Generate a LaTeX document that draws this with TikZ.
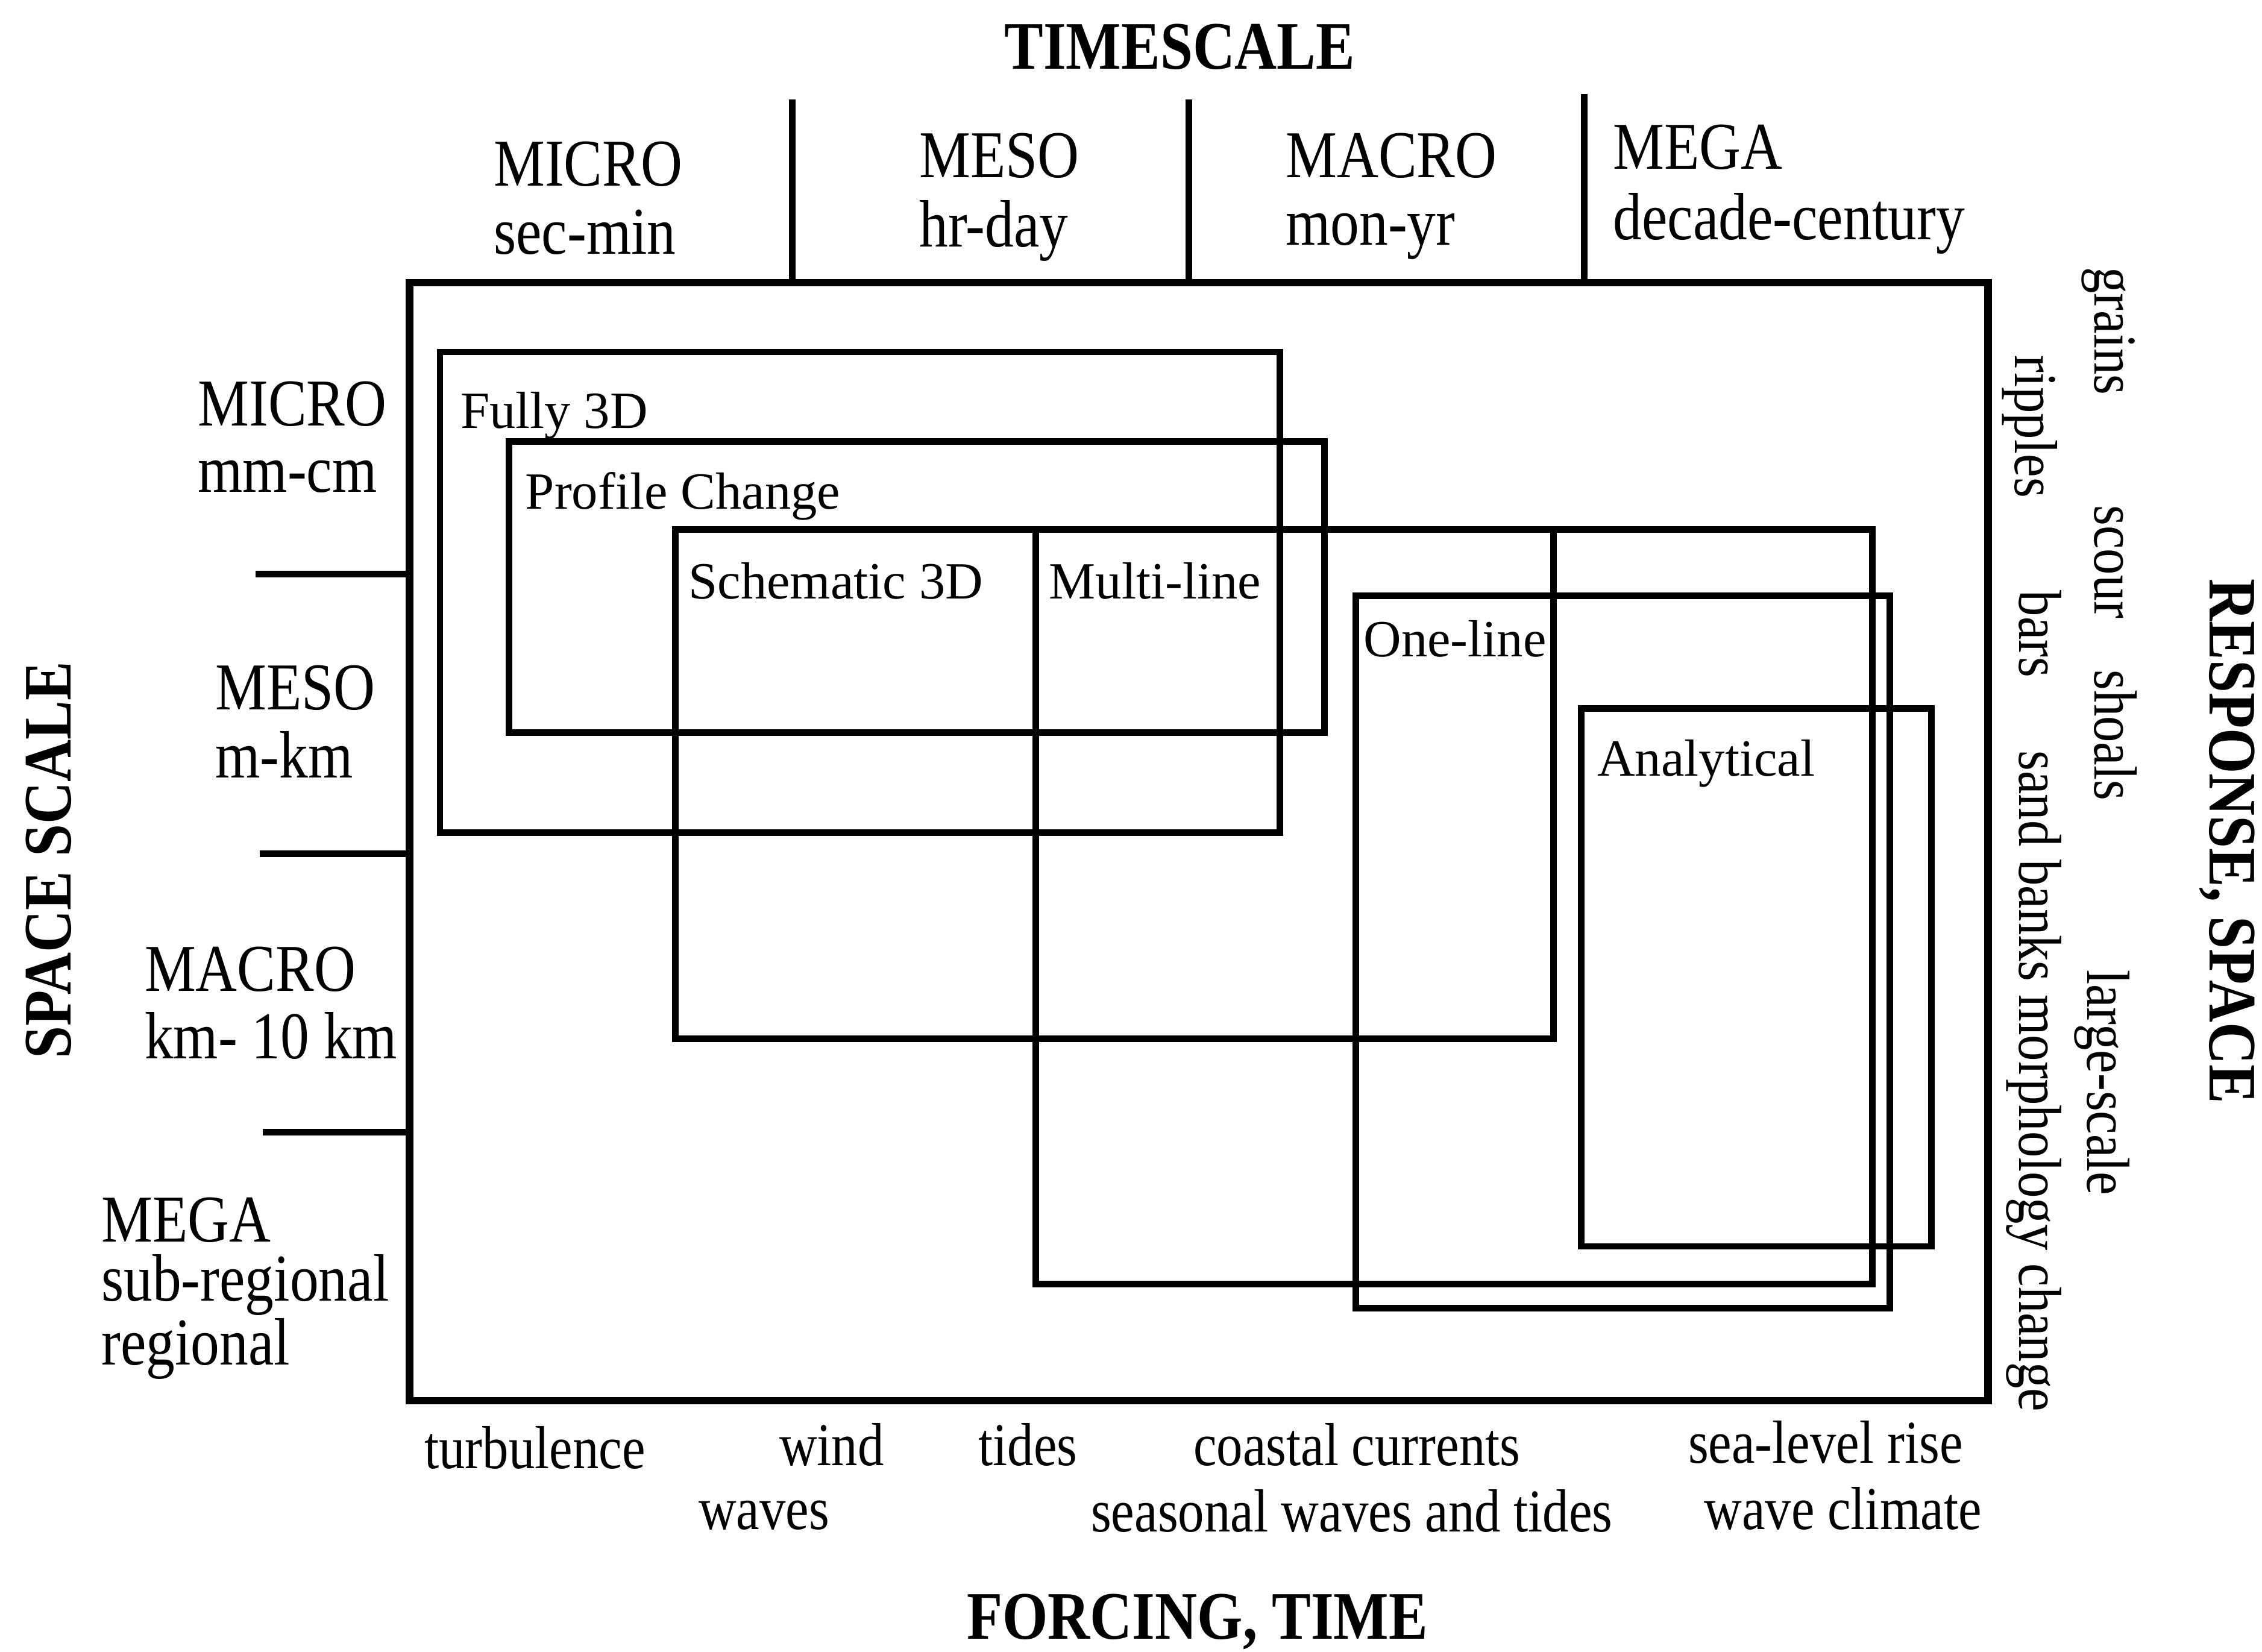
\documentclass[tikz,border=0pt]{standalone}
\usepackage{fontspec}
\setmainfont{Liberation Serif}
\newfontfamily\labfont{Liberation Serif}[FakeStretch=0.86]
\begin{document}
\begin{tikzpicture}[x=0.1mm, y=-0.1mm, line width=1.3pt,
  lab/.style={font=\labfont\fontsize{13.2pt}{15pt}\selectfont, inner sep=0pt, anchor=base west},
  blab/.style={font=\labfont\fontsize{12pt}{14pt}\selectfont, inner sep=0pt, anchor=base west},
  ttl/.style={font=\labfont\bfseries\fontsize{13.4pt}{16pt}\selectfont, inner sep=0pt, anchor=base west},
  inlab/.style={font=\fontsize{10.3pt}{12pt}\selectfont, inner sep=0pt, anchor=base west},
  frame/.style={line width=1.5pt},
  modelbox/.style={line width=1.3pt}
]
\useasboundingbox (0,0) rectangle (1568,1145);

% outer frame
\coordinate (fNW) at (284,196);
\coordinate (fSE) at (1378,971);
\draw[frame] (fNW) rectangle (fSE);

% top dividers
\coordinate (d1) at (549,69);
\coordinate (d2) at (824,69);
\coordinate (d3) at (1098,65);
\draw (d1) -- (d1 |- fNW);
\draw (d2) -- (d2 |- fNW);
\draw (d3) -- (d3 |- fNW);

% left ticks
\coordinate (t1) at (177,398);
\coordinate (t2) at (180,592);
\coordinate (t3) at (182,785);
\draw (t1) -- (t1 -| fNW);
\draw (t2) -- (t2 -| fNW);
\draw (t3) -- (t3 -| fNW);

% model boxes
\draw[modelbox] (305,244) rectangle (887,577);
\draw[modelbox] (353,306) rectangle (918,508);
\draw[modelbox] (468,367) rectangle (1077,720);
\draw[modelbox] (718,367) rectangle (1298,890);
\draw[modelbox] (940,413) rectangle (1310,907);
\draw[modelbox] (1096,491) rectangle (1339,864);

% model labels
\node[inlab] (full3d) at (317,297) {Fully 3D};
\node[inlab] (profile) at (362,353) {Profile Change};
\node[inlab] (schem) at (475,415) {Schematic 3D};
\node[inlab] (multi) at (725,415) {Multi-line};
\node[inlab] (oneline) at (943,455) {One-line};
\node[inlab] (analyt) at (1105,538) {Analytical};

% titles
\node[ttl] (timescale) at (694,48) {TIMESCALE};
\node[ttl] (forcing) at (668,1136) {FORCING, TIME};
\node[ttl, rotate=90] (spacescale) at (49,736) {SPACE SCALE};
\node[ttl, rotate=-90] (response) at (1532,399) {RESPONSE, SPACE};

% timescale labels
\node[lab] (tmicro) at (340,129) {MICRO};
\node[lab] (tmicro2) at (340,176) {sec-min};
\node[lab] (tmeso) at (635,123) {MESO};
\node[lab] (tmeso2) at (635,171) {hr-day};
\node[lab] (tmacro) at (889,123) {MACRO};
\node[lab] (tmacro2) at (889,170) {mon-yr};
\node[lab] (tmega) at (1116,117) {MEGA};
\node[lab] (tmega2) at (1116,166) {decade-century};

% space scale labels
\node[lab] (smicro) at (135,295) {MICRO};
\node[lab] (smicro2) at (135,341) {mm-cm};
\node[lab] (smeso) at (147,492) {MESO};
\node[lab] (smeso2) at (147,539) {m-km};
\node[lab] (smacro) at (98,687) {MACRO};
\node[lab] (smacro2) at (98,734) {km- 10 km};
\node[lab] (smega) at (68,861) {MEGA};
\node[lab] (smega2) at (68,902) {sub-regional};
\node[lab] (smega3) at (68,946) {regional};

% forcing labels
\node[blab] (turb) at (292,1018) {turbulence};
\node[blab] (wind) at (538,1016) {wind};
\node[blab] (waves) at (482,1060) {waves};
\node[blab] (tides) at (676,1016) {tides};
\node[blab] (coast) at (825,1016) {coastal currents};
\node[blab] (season) at (754,1062) {seasonal waves and tides};
\node[blab] (slr) at (1168,1014) {sea-level rise};
\node[blab] (wclim) at (1179,1060) {wave climate};

% response labels
\node[blab, rotate=-90] (grains) at (1452,183) {grains};
\node[blab, rotate=-90] (scour) at (1452,348) {scour};
\node[blab, rotate=-90] (shoals) at (1452,462) {shoals};
\node[blab, rotate=-90] (large) at (1447,670) {large-scale};
\node[blab, rotate=-90] (ripples) at (1397,244) {ripples};
\node[blab, rotate=-90] (bars) at (1400,407) {bars};
\node[blab, rotate=-90] (sand) at (1400,518) {sand banks morphology change};
\end{tikzpicture}
\end{document}
